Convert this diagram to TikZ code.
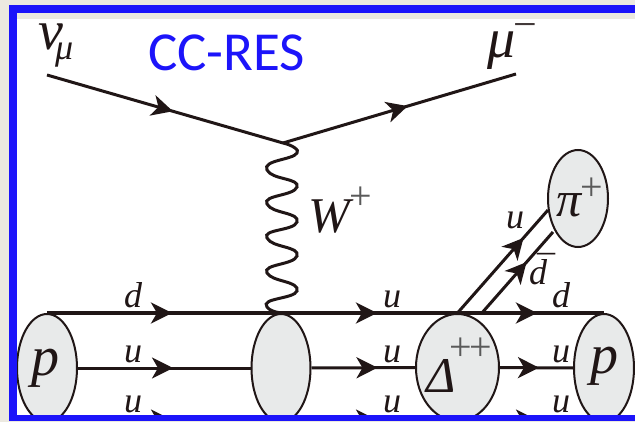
\documentclass[tikz,border=0pt]{standalone}
\usepackage{fontspec}
\setmainfont{Liberation Serif}
\newfontfamily\ccfont{Carlito}
\usetikzlibrary{arrows.meta,decorations.markings,shapes.geometric}
\definecolor{ink}{RGB}{32,22,22}
\definecolor{blob}{RGB}{232,234,234}
\definecolor{framec}{RGB}{28,20,250}
\definecolor{paper}{RGB}{236,233,224}
\definecolor{plusc}{RGB}{90,90,90}
\tikzset{
  flowtip/.tip={Stealth[length=21pt,width=21pt,inset=6pt]},
  thick line/.style={draw=ink,line width=3.6pt},
  quark/.style={draw=ink,line width=3pt},
  hadron/.style={shape=ellipse,draw=ink,fill=blob,line width=2pt,inner sep=0pt},
  lab/.style={text=ink,inner sep=0pt,anchor=base,font=\fontsize{36}{36}\selectfont\itshape},
  big/.style={text=ink,inner sep=0pt,anchor=base,font=\fontsize{56}{56}\selectfont\itshape},
  plusmark/.style={text=plusc,inner sep=0pt,anchor=base,font=\fontsize{40}{40}\selectfont},
  at1/.style={postaction={decorate},decoration={markings,mark=at position #1 with {\arrow{flowtip}}}},
}
\begin{document}
\begin{tikzpicture}[x=1pt,y=-1pt]
\useasboundingbox (0,0) rectangle (635,422);
\fill[white] (0,0) rectangle (635,422);
% coordinates
\coordinate (nuS) at (47,75);
\coordinate (vtx) at (283,143);
\coordinate (muE) at (516,74);
\coordinate (r3a) at (47,420);
\coordinate (r3b) at (604,420);
\coordinate (pa) at (548,210);
\coordinate (pb) at (553,232);
\coordinate (pc) at (481,314);
% hadrons
\node[hadron,minimum width=60pt,minimum height=108pt] (pL) at (47,368) {};
\node[hadron,minimum width=59pt,minimum height=108pt] (bl) at (281,368) {};
\node[hadron,minimum width=83pt,minimum height=107pt] (delta) at (457.5,367.5) {};
\node[hadron,minimum width=60pt,minimum height=108pt] (pR) at (604,368) {};
\node[hadron,minimum width=60pt,minimum height=97pt] (pion) at (578,198.5) {};
% lepton lines
\path[thick line,line width=3pt,at1=131pt] (nuS) -- (vtx);
\path[thick line,line width=3pt,at1=130pt] (vtx) -- (muE);
% W boson
\draw[ink,line width=3pt,line cap=round] (vtx)
  .. controls (292,145) and (300,150) .. (297,153)
  .. controls (293,160) and (262,160) .. (267,170)
  .. controls (272,180) and (300,178) .. (297,187)
  .. controls (294,196) and (262,195) .. (267,204)
  .. controls (272,214) and (300,212) .. (297,222)
  .. controls (294,231) and (262,229) .. (267,238)
  .. controls (272,248) and (300,246) .. (297,256)
  .. controls (294,265) and (262,264) .. (267,273)
  .. controls (272,282) and (300,281) .. (297,291)
  .. controls (294,299) and (260,298) .. (267,307)
  .. controls (269,310) and (274,312) .. (bl.north);
% quark lines
\path[thick line,postaction={decorate},decoration={markings,
  mark=at position 125pt with {\arrow{flowtip}},
  mark=at position 330pt with {\arrow{flowtip}},
  mark=at position 490pt with {\arrow{flowtip}}}] (pL.north) -- (pR.north);
\path[quark,at1=95pt] (pL.east) -- (bl.west);
\path[quark,at1=66pt] (bl.east) -- (delta.west);
\path[quark,at1=39pt] (delta.east) -- (pR.west);
\path[quark,postaction={decorate},decoration={markings,
  mark=at position 125pt with {\arrow{flowtip}},
  mark=at position 330pt with {\arrow{flowtip}},
  mark=at position 490pt with {\arrow{flowtip}}}] (r3a) -- (r3b);
\path[quark,at1=100pt] (delta.north) -- (pa);
\path[quark,at1=69pt] (pc) -- (pb);
% labels
\node[big,anchor=base west] (nuL) at (38,50) {v\kern-8pt\raisebox{-10pt}{\fontsize{36}{36}\selectfont μ}};
\node[big,anchor=base west] (muL) at (487,58) {μ};
\node[plusmark,text=ink!85,font=\fontsize{42}{42}\selectfont] (muM) at (525.5,38.5) {−};
\node[anchor=base west,inner sep=0pt,text=framec,font=\fontsize{55}{55}\selectfont\ccfont] (title) at (148,71) {CC-RES};
\node[big,anchor=base west,font=\fontsize{50}{50}\selectfont\itshape] (wL) at (308,233) {W};
\node[plusmark] (wP) at (361,210) {+};
\node[lab] (d1) at (133,308) {d};
\node[lab] (u1) at (133,362) {u};
\node[lab] (u2) at (133,412) {u};
\node[lab] (u3) at (392,308) {u};
\node[lab] (u4) at (392,362) {u};
\node[lab] (u5) at (392,412) {u};
\node[lab] (d2) at (561,308) {d};
\node[lab] (u6) at (561,362) {u};
\node[lab] (u7) at (561,412) {u};
\node[lab] (u8) at (515,229) {u};
\node[lab] (db) at (538,285) {\rlap{\hspace{8pt}\raisebox{5pt}{\normalfont ¯}}d};
\node[big] (pLt) at (45,375) {p};
\node[big] (pRt) at (604,373) {p};
\node[big,font=\fontsize{50}{50}\selectfont\itshape] (piT) at (569,217) {π};
\node[plusmark] (piP) at (592,201) {+};
\node[big,anchor=base west,font=\fontsize{50}{50}\selectfont\itshape] (dl) at (426,392) {Δ};
\node[plusmark] (dp1) at (461,360) {+};
\node[plusmark] (dp2) at (481,360) {+};
% slide frame
\fill[paper] (0,0) rectangle (635,5);
\fill[paper] (0,0) rectangle (9,422);
\fill[paper] (9,421) rectangle (635,422);
\fill[paper] (17,13) rectangle (635,19);
\fill[framec] (9,5) rectangle (635,13);
\fill[framec] (9,5) rectangle (17,421);
\fill[framec] (9,415) rectangle (635,421);
\end{tikzpicture}
\end{document}
